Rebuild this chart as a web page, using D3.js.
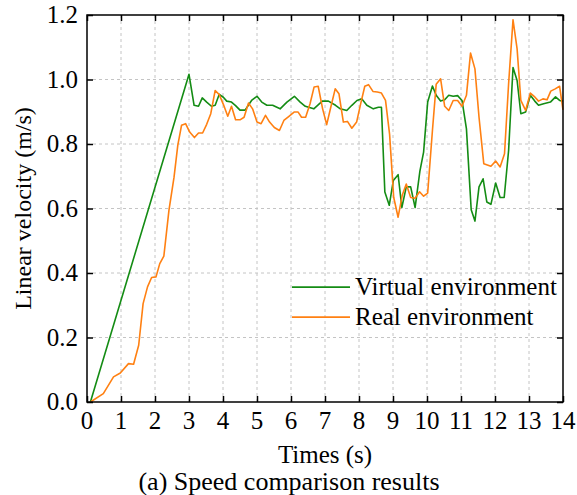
<!DOCTYPE html>
<html>
  <head>
    <meta charset="utf-8">
    <title>Speed comparison</title>
    <script src="https://d3js.org/d3.v7.min.js"></script>
    <style>
      body { margin: 0; background: #fff; }
      text { font-family: "Liberation Serif", "Times New Roman", serif; fill: #000; }
    </style>
  </head>
  <body>
    <script>
      // virtual environment (green)
      var virtualT = [0.1, 3.0, 3.15, 3.28, 3.39, 3.52, 3.66, 3.77, 3.89, 4.01, 4.11, 4.25, 4.37, 4.5, 4.65, 4.84,
        5.0, 5.14, 5.29, 5.46, 5.68, 5.88, 6.1, 6.27, 6.42, 6.67, 6.92, 7.1, 7.31, 7.45, 7.64, 7.79, 7.94, 8.08,
        8.23, 8.42, 8.57, 8.66, 8.76, 8.89, 9.01, 9.15, 9.26, 9.39, 9.52, 9.65, 9.79, 9.9, 10.02, 10.16, 10.27,
        10.4, 10.52, 10.64, 10.77, 10.9, 11.03, 11.16, 11.3, 11.41, 11.53, 11.65, 11.76, 11.88, 12.02, 12.15,
        12.27, 12.4, 12.53, 12.65, 12.76, 12.9, 13.04, 13.17, 13.28, 13.43, 13.63, 13.78, 13.9, 14.0];
      var virtualV = [0, 1.016, 0.92, 0.917, 0.943, 0.93, 0.917, 0.92, 0.954, 0.945, 0.933, 0.93, 0.919, 0.905, 0.905, 0.935,
        0.948, 0.93, 0.92, 0.92, 0.909, 0.93, 0.948, 0.93, 0.917, 0.909, 0.933, 0.933, 0.92, 0.909, 0.904, 0.92, 0.935, 0.94,
        0.92, 0.909, 0.914, 0.914, 0.651, 0.61, 0.687, 0.705, 0.603, 0.667, 0.667, 0.603, 0.715, 0.775, 0.93, 0.98, 0.951,
        0.933, 0.937, 0.951, 0.948, 0.95, 0.935, 0.847, 0.596, 0.561, 0.667, 0.692, 0.62, 0.613, 0.679, 0.634,
        0.634, 0.78, 1.037, 0.997, 0.894, 0.899, 0.951, 0.933, 0.92, 0.925, 0.93, 0.946, 0.935, 0.933];

      // real environment (orange)
      var realT = [0.1, 0.48, 0.78, 0.98, 1.22, 1.37, 1.52, 1.65, 1.78, 1.9, 2.03, 2.14, 2.26, 2.41, 2.56, 2.67, 2.78, 2.9,
        3.02, 3.16, 3.28, 3.4, 3.52, 3.64, 3.77, 3.89, 4.01, 4.14, 4.25, 4.37, 4.5, 4.62, 4.75, 4.87, 5.0, 5.12, 5.25,
        5.37, 5.51, 5.66, 5.79, 5.94, 6.09, 6.21, 6.31, 6.43, 6.56, 6.68, 6.8, 6.93, 7.05, 7.17, 7.3, 7.41, 7.54, 7.66,
        7.79, 7.93, 8.05, 8.17, 8.28, 8.41, 8.54, 8.66, 8.78, 8.9, 9.02, 9.15, 9.27, 9.39, 9.52, 9.65, 9.78, 9.9, 10.02,
        10.16, 10.27, 10.4, 10.52, 10.64, 10.77, 10.9, 11.03, 11.16, 11.28, 11.41, 11.53, 11.67, 11.88, 12.02, 12.15,
        12.28, 12.4, 12.53, 12.65, 12.76, 12.9, 13.04, 13.17, 13.28, 13.41, 13.53, 13.64, 13.77, 13.9, 14.0];
      var realV = [0, 0.026, 0.078, 0.09, 0.119, 0.117, 0.176, 0.305, 0.357, 0.386, 0.388, 0.429, 0.452, 0.594, 0.697, 0.796, 0.858, 0.863,
        0.837, 0.82, 0.834, 0.834, 0.861, 0.894, 0.966, 0.953, 0.923, 0.886, 0.917, 0.875, 0.875, 0.883, 0.927, 0.909, 0.868, 0.863, 0.889,
        0.868, 0.851, 0.842, 0.873, 0.886, 0.899, 0.899, 0.883, 0.883, 0.925, 0.977, 0.979, 0.909, 0.86, 0.914, 0.971, 0.956, 0.868, 0.87,
        0.849, 0.868, 0.925, 0.979, 0.984, 0.963, 0.961, 0.958, 0.935, 0.83, 0.635, 0.573, 0.64, 0.676, 0.634, 0.632, 0.652, 0.638, 0.648,
        0.842, 0.985, 1.002, 0.917, 0.904, 0.935, 0.935, 0.917, 0.951, 1.082, 1.033, 0.883, 0.739, 0.731, 0.747, 0.729,
        0.77, 0.987, 1.185, 1.095, 0.935, 0.904, 0.958, 0.946, 0.933, 0.94, 0.937, 0.964, 0.971, 0.979, 0.906];

      var xTicks = [0, 1, 2, 3, 4, 5, 6, 7, 8, 9, 10, 11, 12, 13, 14];
      var yTicks = [0, 0.2, 0.4, 0.6, 0.8, 1.0, 1.2];
      var seriesNames = ["Virtual environment", "Real environment"];
      var seriesColors = ["#148c14", "#ff8012"];

      var width = 577, height = 495;
      var margin = {left: 87, right: 14, top: 15, bottom: 93};
      var serif = "'Liberation Serif', 'Times New Roman', serif";

      var svg = d3.select("body").append("svg")
        .attr("width", width)
        .attr("height", height);

      var x = d3.scaleLinear().domain([0, 14]).range([margin.left, width - margin.right]);
      var y = d3.scaleLinear().domain([0, 1.2]).range([height - margin.bottom, margin.top]);

      // grid
      var grid = svg.append("g")
        .attr("stroke", "#c4c4c4")
        .attr("stroke-width", 1)
        .attr("stroke-dasharray", "3,3");
      grid.selectAll("line.gx").data(xTicks.slice(1, -1)).enter().append("line")
        .attr("x1", function(d) { return x(d); }).attr("x2", function(d) { return x(d); })
        .attr("y1", y(0)).attr("y2", y(1.2));
      grid.selectAll("line.gy").data(yTicks.slice(1, -1)).enter().append("line")
        .attr("y1", function(d) { return y(d); }).attr("y2", function(d) { return y(d); })
        .attr("x1", x(0)).attr("x2", x(14));

      var line = d3.line()
        .x(function(d) { return x(d[0]); })
        .y(function(d) { return y(d[1]); });

      var virtualData = d3.zip(virtualT, virtualV);
      var realData = d3.zip(realT, realV);

      svg.append("path").datum(virtualData)
        .attr("fill", "none").attr("stroke", seriesColors[0]).attr("stroke-width", 1.6)
        .attr("stroke-linejoin", "round").attr("d", line);
      svg.append("path").datum(realData)
        .attr("fill", "none").attr("stroke", seriesColors[1]).attr("stroke-width", 1.6)
        .attr("stroke-linejoin", "round").attr("d", line);

      // axes, ticks inward on all four sides
      var tickLen = 6;
      svg.append("g").attr("transform", "translate(0," + y(0) + ")")
        .call(d3.axisTop(x).tickValues(xTicks).tickSize(tickLen).tickFormat(""))
        .call(function(g) { g.select(".domain").remove(); });
      svg.append("g").attr("transform", "translate(0," + y(1.2) + ")")
        .call(d3.axisBottom(x).tickValues(xTicks).tickSize(tickLen).tickFormat(""))
        .call(function(g) { g.select(".domain").remove(); });
      svg.append("g").attr("transform", "translate(" + x(0) + ",0)")
        .call(d3.axisRight(y).tickValues(yTicks).tickSize(tickLen).tickFormat(""))
        .call(function(g) { g.select(".domain").remove(); });
      svg.append("g").attr("transform", "translate(" + x(14) + ",0)")
        .call(d3.axisLeft(y).tickValues(yTicks).tickSize(tickLen).tickFormat(""))
        .call(function(g) { g.select(".domain").remove(); });
      svg.selectAll(".tick line").attr("stroke", "#000").attr("stroke-width", 1.5);

      svg.append("rect")
        .attr("x", x(0)).attr("y", y(1.2))
        .attr("width", x(14) - x(0)).attr("height", y(0) - y(1.2))
        .attr("fill", "none").attr("stroke", "#000").attr("stroke-width", 1.5);

      // tick labels
      svg.selectAll("text.xl").data(xTicks).enter().append("text")
        .attr("x", function(d) { return x(d); })
        .attr("y", y(0) + 27)
        .attr("text-anchor", "middle")
        .attr("font-family", serif)
        .attr("font-size", 25)
        .text(function(d) { return d; });
      svg.selectAll("text.yl").data(yTicks).enter().append("text")
        .attr("x", x(0) - 9)
        .attr("y", function(d) { return y(d) + 8; })
        .attr("text-anchor", "end")
        .attr("font-family", serif)
        .attr("font-size", 25)
        .text(function(d) { return d3.format(".1f")(d); });

      // axis titles
      svg.append("text")
        .attr("transform", "translate(31," + ((y(0) + y(1.2)) / 2) + ") rotate(-90)")
        .attr("text-anchor", "middle")
        .attr("font-family", serif)
        .attr("font-size", 24)
        .text("Linear velocity (m/s)");
      svg.append("text")
        .attr("x", (x(0) + x(14)) / 2)
        .attr("y", 463)
        .attr("text-anchor", "middle")
        .attr("font-family", serif)
        .attr("font-size", 25)
        .text("Times (s)");
      svg.append("text")
        .attr("x", 289)
        .attr("y", 490)
        .attr("text-anchor", "middle")
        .attr("font-family", serif)
        .attr("font-size", 26)
        .text("(a) Speed comparison results");

      // legend
      var legend = svg.append("g");
      seriesNames.forEach(function(name, i) {
        var ly = y(0.35) - 2 + i * 30;
        legend.append("line")
          .attr("x1", 292).attr("x2", 350)
          .attr("y1", ly).attr("y2", ly)
          .attr("stroke", seriesColors[i]).attr("stroke-width", 1.6);
        legend.append("text")
          .attr("x", 355).attr("y", ly + 8)
          .attr("font-family", serif)
          .attr("font-size", 25)
          .text(name);
      });
    </script>
  </body>
</html>
